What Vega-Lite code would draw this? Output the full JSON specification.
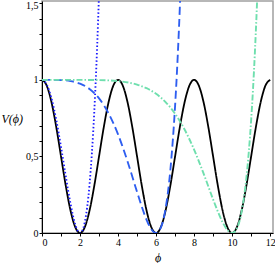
{
  "$schema": "https://vega.github.io/schema/vega-lite/v6.json",
  "autosize": "none",
  "width": 231,
  "height": 232,
  "padding": {"left": 42, "top": 1, "right": 2, "bottom": 30},
  "background": "white",
  "config": {
    "view": {"stroke": "#a0a0a0", "strokeWidth": 1.5},
    "axis": {
      "labelFont": "Liberation Serif",
      "labelFontSize": 10,
      "labelColor": "black",
      "titleFont": "Liberation Serif",
      "titleFontSize": 12,
      "titleFontStyle": "italic",
      "titleFontWeight": "normal",
      "titleColor": "black",
      "domainColor": "black",
      "tickColor": "black",
      "tickSize": 3,
      "grid": false
    }
  },
  "data": {
    "values": [
      {"s": "exact", "phi": 0, "V": 1},
      {"s": "exact", "phi": 0.25, "V": 0.96194},
      {"s": "exact", "phi": 0.5, "V": 0.85355},
      {"s": "exact", "phi": 0.75, "V": 0.69134},
      {"s": "exact", "phi": 1, "V": 0.5},
      {"s": "exact", "phi": 1.25, "V": 0.30866},
      {"s": "exact", "phi": 1.5, "V": 0.14645},
      {"s": "exact", "phi": 1.75, "V": 0.03806},
      {"s": "exact", "phi": 2, "V": 0},
      {"s": "exact", "phi": 2.25, "V": 0.03806},
      {"s": "exact", "phi": 2.5, "V": 0.14645},
      {"s": "exact", "phi": 2.75, "V": 0.30866},
      {"s": "exact", "phi": 3, "V": 0.5},
      {"s": "exact", "phi": 3.25, "V": 0.69134},
      {"s": "exact", "phi": 3.5, "V": 0.85355},
      {"s": "exact", "phi": 3.75, "V": 0.96194},
      {"s": "exact", "phi": 4, "V": 1},
      {"s": "exact", "phi": 4.25, "V": 0.96194},
      {"s": "exact", "phi": 4.5, "V": 0.85355},
      {"s": "exact", "phi": 4.75, "V": 0.69134},
      {"s": "exact", "phi": 5, "V": 0.5},
      {"s": "exact", "phi": 5.25, "V": 0.30866},
      {"s": "exact", "phi": 5.5, "V": 0.14645},
      {"s": "exact", "phi": 5.75, "V": 0.03806},
      {"s": "exact", "phi": 6, "V": 0},
      {"s": "exact", "phi": 6.25, "V": 0.03806},
      {"s": "exact", "phi": 6.5, "V": 0.14645},
      {"s": "exact", "phi": 6.75, "V": 0.30866},
      {"s": "exact", "phi": 7, "V": 0.5},
      {"s": "exact", "phi": 7.25, "V": 0.69134},
      {"s": "exact", "phi": 7.5, "V": 0.85355},
      {"s": "exact", "phi": 7.75, "V": 0.96194},
      {"s": "exact", "phi": 8, "V": 1},
      {"s": "exact", "phi": 8.25, "V": 0.96194},
      {"s": "exact", "phi": 8.5, "V": 0.85355},
      {"s": "exact", "phi": 8.75, "V": 0.69134},
      {"s": "exact", "phi": 9, "V": 0.5},
      {"s": "exact", "phi": 9.25, "V": 0.30866},
      {"s": "exact", "phi": 9.5, "V": 0.14645},
      {"s": "exact", "phi": 9.75, "V": 0.03806},
      {"s": "exact", "phi": 10, "V": 0},
      {"s": "exact", "phi": 10.25, "V": 0.03806},
      {"s": "exact", "phi": 10.5, "V": 0.14645},
      {"s": "exact", "phi": 10.75, "V": 0.30866},
      {"s": "exact", "phi": 11, "V": 0.5},
      {"s": "exact", "phi": 11.25, "V": 0.69134},
      {"s": "exact", "phi": 11.5, "V": 0.85355},
      {"s": "exact", "phi": 11.75, "V": 0.96194},
      {"s": "exact", "phi": 12, "V": 1},

      {"s": "a1", "phi": 0, "V": 1},
      {"s": "a1", "phi": 0.25, "V": 0.969},
      {"s": "a1", "phi": 0.5, "V": 0.8789},
      {"s": "a1", "phi": 0.75, "V": 0.7385},
      {"s": "a1", "phi": 1, "V": 0.5625},
      {"s": "a1", "phi": 1.25, "V": 0.3713},
      {"s": "a1", "phi": 1.5, "V": 0.1914},
      {"s": "a1", "phi": 1.75, "V": 0.0549},
      {"s": "a1", "phi": 1.9, "V": 0.0095},
      {"s": "a1", "phi": 2, "V": 0},
      {"s": "a1", "phi": 2.1, "V": 0.0105},
      {"s": "a1", "phi": 2.25, "V": 0.0706},
      {"s": "a1", "phi": 2.5, "V": 0.3164},
      {"s": "a1", "phi": 2.75, "V": 0.7932},
      {"s": "a1", "phi": 2.9, "V": 1.2155},
      {"s": "a1", "phi": 2.95, "V": 1.3821},
      {"s": "a1", "phi": 3.0, "V": 1.5625},

      {"s": "a2", "phi": 0, "V": 1},
      {"s": "a2", "phi": 0.5, "V": 0.9999},
      {"s": "a2", "phi": 1, "V": 0.99846},
      {"s": "a2", "phi": 1.5, "V": 0.9922},
      {"s": "a2", "phi": 2, "V": 0.97546},
      {"s": "a2", "phi": 2.5, "V": 0.94063},
      {"s": "a2", "phi": 3, "V": 0.87891},
      {"s": "a2", "phi": 3.5, "V": 0.78184},
      {"s": "a2", "phi": 4, "V": 0.64396},
      {"s": "a2", "phi": 4.5, "V": 0.46729},
      {"s": "a2", "phi": 5, "V": 0.26807},
      {"s": "a2", "phi": 5.25, "V": 0.17125},
      {"s": "a2", "phi": 5.5, "V": 0.0864},
      {"s": "a2", "phi": 5.75, "V": 0.0245},
      {"s": "a2", "phi": 6, "V": 0},
      {"s": "a2", "phi": 6.25, "V": 0.03498},
      {"s": "a2", "phi": 6.5, "V": 0.15967},
      {"s": "a2", "phi": 6.75, "V": 0.40964},
      {"s": "a2", "phi": 7, "V": 0.82923},
      {"s": "a2", "phi": 7.1, "V": 1.05629},
      {"s": "a2", "phi": 7.2, "V": 1.32393},
      {"s": "a2", "phi": 7.3, "V": 1.63523},

      {"s": "a3", "phi": 0, "V": 1},
      {"s": "a3", "phi": 1, "V": 1},
      {"s": "a3", "phi": 2, "V": 0.99987},
      {"s": "a3", "phi": 3, "V": 0.99854},
      {"s": "a3", "phi": 4, "V": 0.99183},
      {"s": "a3", "phi": 5, "V": 0.96899},
      {"s": "a3", "phi": 5.5, "V": 0.94541},
      {"s": "a3", "phi": 6, "V": 0.90887},
      {"s": "a3", "phi": 6.5, "V": 0.85485},
      {"s": "a3", "phi": 7, "V": 0.77854},
      {"s": "a3", "phi": 7.5, "V": 0.67572},
      {"s": "a3", "phi": 8, "V": 0.54443},
      {"s": "a3", "phi": 8.5, "V": 0.38794},
      {"s": "a3", "phi": 9, "V": 0.21955},
      {"s": "a3", "phi": 9.25, "V": 0.13957},
      {"s": "a3", "phi": 9.5, "V": 0.07018},
      {"s": "a3", "phi": 9.75, "V": 0.01991},
      {"s": "a3", "phi": 10, "V": 0},
      {"s": "a3", "phi": 10.25, "V": 0.03032},
      {"s": "a3", "phi": 10.5, "V": 0.13926},
      {"s": "a3", "phi": 10.75, "V": 0.36019},
      {"s": "a3", "phi": 11, "V": 0.73623},
      {"s": "a3", "phi": 11.1, "V": 0.94212},
      {"s": "a3", "phi": 11.2, "V": 1.18578},
      {"s": "a3", "phi": 11.3, "V": 1.4719},
      {"s": "a3", "phi": 11.35, "V": 1.63222}
    ]
  },
  "mark": {"type": "line", "interpolate": "monotone", "clip": true},
  "encoding": {
    "x": {
      "field": "phi", "type": "quantitative",
      "scale": {"domain": [0, 12.15], "nice": false, "zero": false},
      "axis": {
        "title": "ϕ",
        "values": [0,1,2,3,4,5,6,7,8,9,10,11,12],
        "labelExpr": "datum.value % 2 == 0 ? datum.label : ''",
        "titleY": 24, "titleBaseline": "middle",
        "labelPadding": 1
      }
    },
    "y": {
      "field": "V", "type": "quantitative",
      "scale": {"domain": [0, 1.515], "nice": false, "zero": false},
      "axis": {
        "title": "V(ϕ)",
        "values": [0,0.1,0.2,0.3,0.4,0.5,0.6,0.7,0.8,0.9,1,1.1,1.2,1.3,1.4,1.5],
        "labelExpr": "abs(datum.value*2 - round(datum.value*2)) < 0.001 ? replace(format(datum.value, ''), '.', ',') : ''",
        "labelOffset": {"condition": {"test": "datum.value > 1.49", "value": 2}, "value": 0},
        "titleAngle": 0,
        "titleAlign": "left",
        "titleBaseline": "middle",
        "titleX": -41,
        "titleY": 117,
        "labelPadding": 1
      }
    },
    "color": {
      "field": "s", "type": "nominal",
      "scale": {"domain": ["exact", "a1", "a2", "a3"], "range": ["#000000", "#1a1aff", "#2e5ef0", "#6fdfae"]},
      "legend": null
    },
    "strokeDash": {
      "field": "s", "type": "nominal",
      "scale": {"domain": ["exact", "a1", "a2", "a3"], "range": [[1, 0], [1.5, 2.2], [8, 4], [6, 2, 1.5, 2]]},
      "legend": null
    },
    "strokeWidth": {
      "field": "s", "type": "nominal",
      "scale": {"domain": ["exact", "a1", "a2", "a3"], "range": [1.8, 1.9, 1.6, 1.4]},
      "legend": null
    },
    "order": {"field": "phi", "type": "quantitative"}
  }
}
